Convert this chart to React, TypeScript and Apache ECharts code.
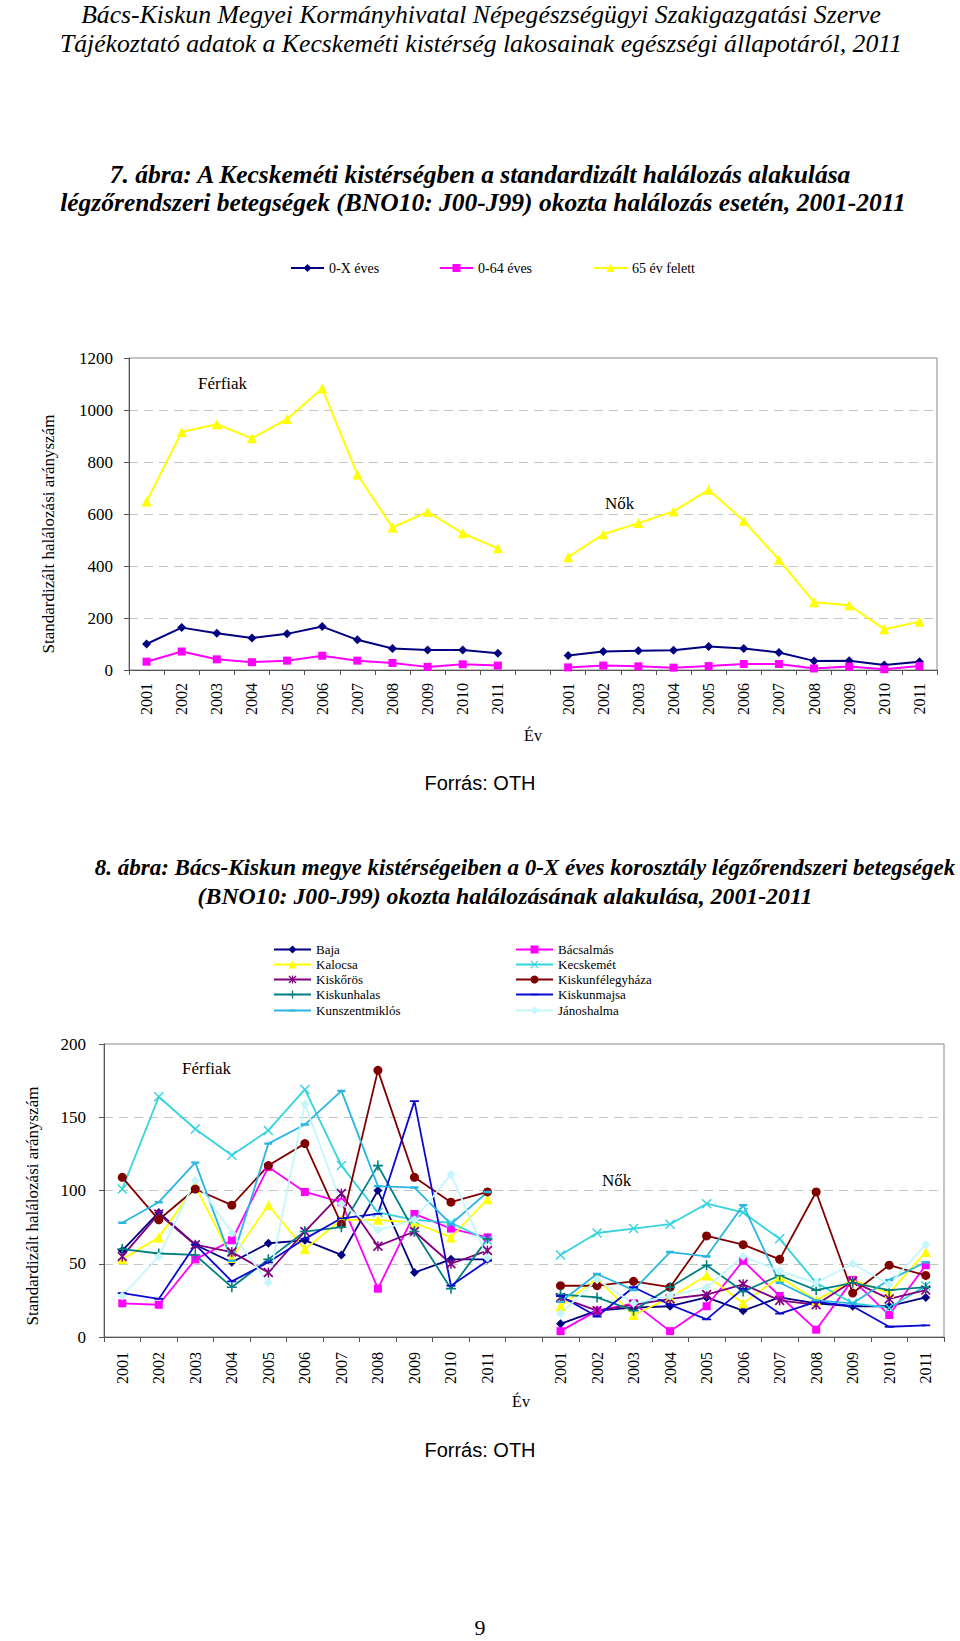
import React, { useEffect, useRef } from 'react';
import * as echarts from 'echarts';

// ---------- data ----------
const years = ['2001', '2002', '2003', '2004', '2005', '2006', '2007', '2008', '2009', '2010', '2011'];
const xCategories = [...years, '', ...years];

// 7. ábra
const ch1Names = ['0-X éves', '0-64 éves', '65 év felett'];
const ch1Colors = ['#000080', '#FF00FF', '#FFFF00'];
const men0X = [100, 163, 141, 123, 139, 167, 116, 83, 77, 77, 64];
const men064 = [32, 71, 41, 30, 36, 55, 36, 27, 12, 22, 17];
const men65 = [648, 915, 945, 891, 965, 1083, 752, 548, 608, 526, 468];
const women0X = [56, 71, 74, 76, 90, 83, 67, 35, 36, 19, 32];
const women064 = [10, 17, 14, 9, 15, 23, 23, 6, 13, 3, 15];
const women65 = [434, 522, 565, 610, 693, 574, 424, 261, 249, 157, 186];
const ch1YTicks = { min: 0, max: 1200, interval: 200 };

// 8. ábra
const districts = ['Baja', 'Bácsalmás', 'Kalocsa', 'Kecskemét', 'Kiskőrös', 'Kiskunfélegyháza', 'Kiskunhalas', 'Kiskunmajsa', 'Kunszentmiklós', 'Jánoshalma'];
const districtColors = ['#000080', '#FF00FF', '#FFFF00', '#33D4DE', '#800080', '#800000', '#008080', '#0A0AD0', '#2BB5E3', '#C4F6FF'];
const menBaja = [59, 85, 63, 51, 64, 66, 56, 100, 44, 53, 53];
const menBacsalmas = [23, 22, 53, 66, 116, 99, 92, 33, 84, 74, 68];
const menKalocsa = [53, 68, 103, 54, 90, 60, 80, 80, 78, 68, 94];
const menKecskemet = [101, 164, 142, 124, 141, 169, 117, 85, 80, 78, 66];
const menKiskoros = [55, 84, 63, 58, 44, 72, 98, 62, 72, 50, 59];
const menKiskunfelegyhaza = [109, 80, 101, 90, 117, 132, 77, 182, 109, 92, 99];
const menKiskunhalas = [60, 57, 56, 34, 53, 72, 75, 117, 72, 33, 67];
const menKiskunmajsa = [30, 26, 63, 38, 51, 67, 81, 84, 161, 35, 52];
const menKunszentmiklos = [78, 92, 119, 52, 132, 145, 168, 103, 102, 77, 99];
const menJanoshalma = [28, 55, 107, 71, 37, 159, 91, 73, 80, 111, 54];
const womenBaja = [9, 18, 20, 21, 27, 18, 27, 23, 21, 21, 27];
const womenBacsalmas = [4, 18, 23, 4, 21, 52, 28, 5, 39, 15, 49];
const womenKalocsa = [21, 40, 15, 27, 42, 23, 41, 25, 39, 30, 58];
const womenKecskemet = [56, 71, 74, 77, 91, 85, 67, 37, 23, 20, 35];
const womenKiskoros = [27, 18, 22, 26, 29, 36, 25, 22, 38, 26, 32];
const womenKiskunfelegyhaza = [35, 35, 38, 34, 69, 63, 53, 99, 30, 49, 42];
const womenKiskunhalas = [29, 27, 18, 34, 49, 31, 42, 32, 37, 32, 34];
const womenKiskunmajsa = [28, 14, 34, 22, 12, 33, 16, 24, 21, 7, 8];
const womenKunszentmiklos = [24, 43, 32, 58, 55, 90, 37, 25, 23, 39, 51];
const womenJanoshalma = [16, 39, 23, 28, 34, 55, 45, 37, 50, 36, 63];
const ch2Men = [menBaja, menBacsalmas, menKalocsa, menKecskemet, menKiskoros, menKiskunfelegyhaza, menKiskunhalas, menKiskunmajsa, menKunszentmiklos, menJanoshalma];
const ch2Women = [womenBaja, womenBacsalmas, womenKalocsa, womenKecskemet, womenKiskoros, womenKiskunfelegyhaza, womenKiskunhalas, womenKiskunmajsa, womenKunszentmiklos, womenJanoshalma];
const ch2YTicks = { min: 0, max: 200, interval: 50 };

// ---------- styles ----------
const serif = '"Liberation Serif", "Times New Roman", serif';
const sans = '"Liberation Sans", Arial, sans-serif';

const SYM_X = 'path://M0,1L1,0L5,4L9,0L10,1L6,5L10,9L9,10L5,6L1,10L0,9L4,5Z';
const SYM_STAR = 'path://M0,1.2L1.2,0L5,3.8L8.8,0L10,1.2L6.2,5L10,8.8L8.8,10L5,6.2L1.2,10L0,8.8L3.8,5Z M4.3,0H5.7V10H4.3Z';
const SYM_PLUS = 'path://M4.2,0H5.8V4.2H10V5.8H5.8V10H4.2V5.8H0V4.2H4.2Z';
const SYM_DASH = 'path://M0,0L0.01,0L0,0.01Z M10,10L9.99,10L10,9.99Z M0,4H10V6H0Z';
const SYM_SDASH = 'path://M0,0L0.01,0L0,0.01Z M10,10L9.99,10L10,9.99Z M1,3.8H9V6.2H1Z';

const ch1Symbols = ['diamond', 'rect', 'triangle'];
const ch1Sizes = [9, 8, 10];
const ch2Symbols = ['diamond', 'rect', 'triangle', SYM_X, SYM_STAR, 'circle', SYM_PLUS, SYM_DASH, SYM_SDASH, 'diamond'];
const ch2Sizes = [9, 8, 10, 10, 10, 9, 10, 9, 10, 9];

const joinGap = (m: number[], w: number[]) => [...m, null, ...w];

function buildOption(): any {
  const axisColor = '#555';
  const mkX = (gi: number, margin: number) => ({
    type: 'category', gridIndex: gi, data: xCategories, boundaryGap: true,
    axisLine: { show: true, lineStyle: { color: axisColor, width: 1 } },
    axisTick: { show: true, interval: 0, length: 5, lineStyle: { color: axisColor } },
    axisLabel: { interval: 0, rotate: 90, fontSize: 16, fontFamily: serif, color: '#000', margin },
    splitLine: { show: false },
  });
  const mkY = (gi: number, t: any, margin: number) => ({
    type: 'value', gridIndex: gi, min: t.min, max: t.max, interval: t.interval,
    axisLine: { show: true, lineStyle: { color: axisColor, width: 1 } },
    axisTick: { show: true, length: 5, lineStyle: { color: axisColor } },
    axisLabel: { fontSize: 17, fontFamily: serif, color: '#000', margin, formatter: (v: number) => String(v) },
    splitLine: { show: true, lineStyle: { type: [9, 6], color: '#c4c4c4', width: 1 } },
  });

  const series: any[] = [];
  const ch1Data = [joinGap(men0X, women0X), joinGap(men064, women064), joinGap(men65, women65)];
  ch1Names.forEach((n, i) => {
    series.push({
      type: 'line', name: n, xAxisIndex: 0, yAxisIndex: 0, data: ch1Data[i],
      symbol: ch1Symbols[i], symbolSize: ch1Sizes[i], connectNulls: false,
      lineStyle: { color: ch1Colors[i], width: 2 },
      itemStyle: { color: ch1Colors[i], borderWidth: 0 },
      emphasis: { disabled: true },
    });
  });
  districts.forEach((n, i) => {
    series.push({
      type: 'line', name: n, xAxisIndex: 1, yAxisIndex: 1, data: joinGap(ch2Men[i], ch2Women[i]),
      symbol: ch2Symbols[i], symbolSize: ch2Sizes[i], connectNulls: false,
      lineStyle: { color: districtColors[i], width: 1.8 },
      itemStyle: { color: districtColors[i], borderWidth: 0 },
      emphasis: { disabled: true },
    });
  });

  const legends: any[] = [];
  const ch1LegendX = [290, 439, 593];
  ch1Names.forEach((n, i) => {
    legends.push({ data: [n], left: ch1LegendX[i], top: 261, padding: 0, itemWidth: 33, itemHeight: 10, selectedMode: false, textStyle: { fontSize: 14, fontFamily: serif, color: '#000' } });
  });
  const colX = [273, 515];
  const rowY = [949, 964, 979, 994, 1010];
  districts.forEach((n, i) => {
    legends.push({ data: [n], left: colX[i % 2], top: rowY[Math.floor(i / 2)] - 6, padding: 0, itemWidth: 37, itemHeight: 10, selectedMode: false, textStyle: { fontSize: 13, fontFamily: serif, color: '#000' } });
  });

  const txt = (text: string, x: number, y: number, font: string, align = 'center', extra: any = {}) => ({
    type: 'text', x, y, silent: true, ...extra,
    style: { text, font, fill: '#000', align, verticalAlign: 'middle' },
  });

  const graphic = [
    txt('Bács-Kiskun Megyei Kormányhivatal Népegészségügyi Szakigazgatási Szerve', 481, 14, `italic 25.7px ${serif}`),
    txt('Tájékoztató adatok a Kecskeméti kistérség lakosainak egészségi állapotáról, 2011', 481, 43, `italic 25.7px ${serif}`),
    txt('7. ábra: A Kecskeméti kistérségben a standardizált halálozás alakulása', 480, 174, `italic bold 25.5px ${serif}`),
    txt('légzőrendszeri betegségek (BNO10: J00-J99) okozta halálozás esetén, 2001-2011', 483, 202, `italic bold 25.5px ${serif}`),
    txt('Standardizált halálozási arányszám', 48, 534, `17px ${serif}`, 'center', { rotation: Math.PI / 2 }),
    txt('Férfiak', 198, 383, `17px ${serif}`, 'left'),
    txt('Nők', 605, 503, `17px ${serif}`, 'left'),
    txt('Év', 533, 735, `16px ${serif}`),
    txt('Forrás: OTH', 480, 783, `20px ${sans}`),
    txt('8. ábra: Bács-Kiskun megye kistérségeiben a 0-X éves korosztály légzőrendszeri betegségek', 525, 867, `italic bold 23px ${serif}`),
    txt('(BNO10: J00-J99) okozta halálozásának alakulása, 2001-2011', 505, 896, `italic bold 23.8px ${serif}`),
    txt('Standardizált halálozási arányszám', 32, 1206, `17px ${serif}`, 'center', { rotation: Math.PI / 2 }),
    txt('Férfiak', 182, 1068, `17px ${serif}`, 'left'),
    txt('Nők', 602, 1180, `17px ${serif}`, 'left'),
    txt('Év', 521, 1401, `16px ${serif}`),
    txt('Forrás: OTH', 480, 1450, `20px ${sans}`),
    txt('9', 480, 1627, `22px ${serif}`),
  ];

  return {
    animation: false,
    backgroundColor: '#ffffff',
    grid: [
      { left: 129, top: 358, width: 808, height: 312, show: true, borderColor: '#888', borderWidth: 1, backgroundColor: 'transparent' },
      { left: 104, top: 1044, width: 840, height: 293, show: true, borderColor: '#888', borderWidth: 1, backgroundColor: 'transparent' },
    ],
    xAxis: [mkX(0, 13), mkX(1, 15)],
    yAxis: [mkY(0, ch1YTicks, 16), mkY(1, ch2YTicks, 18)],
    legend: legends,
    series,
    graphic,
  };
}

export default function App() {
  const ref = useRef<HTMLDivElement>(null);
  useEffect(() => {
    document.body.style.margin = '0';
    if (!ref.current) return;
    const chart = echarts.init(ref.current, undefined, { renderer: 'svg' });
    chart.setOption(buildOption());
    return () => chart.dispose();
  }, []);
  return <div ref={ref} style={{ width: 960, height: 1641, background: '#fff' }} />;
}
